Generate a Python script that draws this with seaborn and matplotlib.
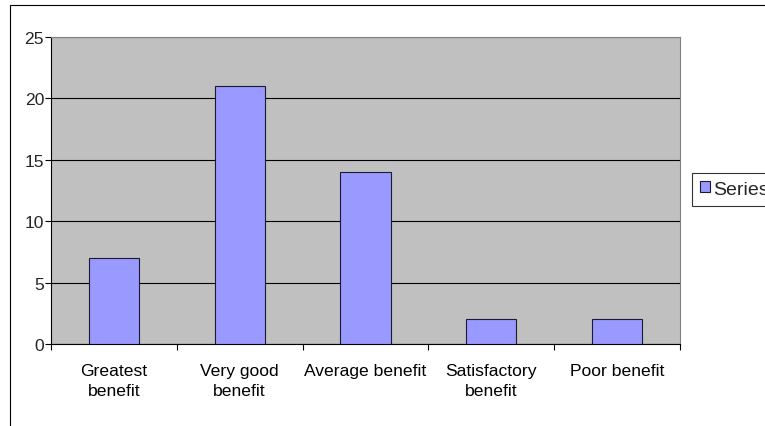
import matplotlib
matplotlib.use("Agg")
import matplotlib.pyplot as plt
import matplotlib.patches as mpatches
import seaborn as sns
import pandas as pd

categories = ["Greatest\nbenefit", "Very good\nbenefit", "Average benefit",
              "Satisfactory\nbenefit", "Poor benefit"]
values = [7, 21, 14, 2, 2]
series_name = "Series1"
y_ticks = [0, 5, 10, 15, 20, 25]

sns.set_style("white")
plt.rcParams["font.family"] = ["Liberation Sans", "DejaVu Sans"]

df = pd.DataFrame({"category": categories, "value": values})

fig = plt.figure(figsize=(7.65, 4.27), dpi=100)
ax = fig.add_axes([51 / 765, 1 - 345 / 427, (680 - 51) / 765, (345 - 38) / 427])
ax.set_facecolor("#C0C0C0")

sns.barplot(data=df, x="category", y="value", ax=ax, color="#9999FF",
            saturation=1, width=0.4, edgecolor="#1a1a33", linewidth=0.8,
            zorder=3)

ax.set_ylim(0, 25)
ax.set_xlim(-0.5, len(categories) - 0.5)
ax.set_yticks(y_ticks)
ax.set_yticklabels([str(t) for t in y_ticks])
ax.yaxis.grid(True, color="black", linewidth=0.8, zorder=1)
ax.set_axisbelow(True)
ax.set_xlabel("")
ax.set_ylabel("")

# major ticks at category centres (labels), minor at boundaries (tick marks)
ax.set_xticks(range(len(categories)))
ax.set_xticklabels(categories, fontsize=12.6, multialignment="center",
                   linespacing=1.35)
ax.set_xticks([i - 0.5 for i in range(len(categories) + 1)], minor=True)
ax.tick_params(axis="x", which="major", length=0, pad=14, colors="black")
ax.tick_params(axis="x", which="minor", length=4, width=0.8, color="black",
               direction="out", bottom=True)
ax.tick_params(axis="y", which="major", length=4, width=0.8, color="black",
               direction="out", pad=1, labelsize=12.6, left=True)

for s in ["left", "bottom"]:
    ax.spines[s].set_color("black")
    ax.spines[s].set_linewidth(0.8)
for s in ["top", "right"]:
    ax.spines[s].set_color("#808080")
    ax.spines[s].set_linewidth(0.8)

# legend (as in the reference, it runs past the right edge)
handle = mpatches.Patch(facecolor="#9999FF", edgecolor="#1a1a33",
                        linewidth=0.8, label=series_name)
leg = fig.legend(handles=[handle], loc="upper left",
                 bbox_to_anchor=(692 / 765, 1 - 174 / 427),
                 bbox_transform=fig.transFigure, frameon=True, fancybox=False,
                 shadow=False, fontsize=14, handlelength=0.5,
                 handleheight=0.5, handletextpad=0.2, borderpad=0.4,
                 borderaxespad=0)
leg.get_frame().set_edgecolor("black")
leg.get_frame().set_linewidth(0.8)

# outer chart border (extends past right and bottom edges)
border = mpatches.Rectangle((10 / 765, -0.2), 1.2, 1 - 6 / 427 + 0.2,
                            transform=fig.transFigure, fill=False,
                            edgecolor="black", linewidth=0.8, clip_on=False)
fig.patches.append(border)

fig.savefig("out.png", dpi=100)
